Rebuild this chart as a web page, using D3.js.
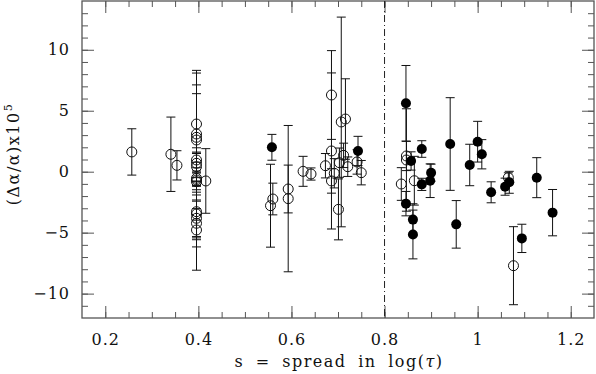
<!DOCTYPE html>
<html>
<head>
<meta charset="utf-8">
<script src="https://cdn.jsdelivr.net/npm/d3@7"></script>
<style>
  body { margin: 0; background: #fff; }
  svg text { font-family: "DejaVu Serif", "Liberation Serif", serif; fill: #111; }
</style>
</head>
<body>
<svg id="chart" width="596" height="374"></svg>
<script>
"use strict";

// open circles: spread, delta alpha / alpha (x1e5), error
const openS = [0.257, 0.341, 0.354, 0.416,
  0.396, 0.396, 0.396, 0.396, 0.396, 0.396, 0.396, 0.396, 0.396, 0.396, 0.396, 0.396, 0.396, 0.396, 0.396,
  0.560, 0.555, 0.593, 0.593, 0.625, 0.642, 0.673, 0.686, 0.686, 0.686, 0.701, 0.707, 0.716, 0.712, 0.703,
  0.721, 0.692, 0.741, 0.750,
  0.836, 0.847, 0.847, 0.864, 1.066, 1.077];
const openY = [1.62, 1.43, 0.52, -0.76,
  3.91, 3.09, 2.82, 2.60, 0.96, 0.69, 0.41, -0.54, -0.68, -0.82, -3.28, -3.47, -3.82, -4.23, -4.78,
  -2.24, -2.79, -1.42, -2.21, 0.03, -0.19, 0.49, 6.29, 1.70, -0.76, -3.09, 4.08, 4.32, 1.34, 0.74,
  0.41, -0.13, 0.80, -0.08,
  -1.01, 1.29, 0.96, -0.74, -0.49, -7.71];
const openErr = [1.9, 3.05, 1.2, 2.65,
  4.4, 5.0, 4.3, 3.8, 1.0, 0.8, 1.2, 0.6, 1.0, 1.6, 4.8, 2.7, 1.5, 1.2, 0.8,
  1.3, 3.4, 1.96, 6.0, 1.23, 0.5, 1.0, 3.64, 6.4, 1.0, 2.5, 8.6, 3.3, 1.0, 1.2,
  0.8, 1.2, 1.0, 1.0,
  1.34, 1.2, 4.2, 2.0, 0.4, 3.2];

// filled circles
const fillS = [0.558, 0.743, 0.846, 0.846, 0.857, 0.861, 0.861, 0.880, 0.880, 0.898, 0.900,
  0.941, 0.954, 0.983, 1.000, 1.009, 1.029, 1.059, 1.068, 1.095, 1.127, 1.161];
const fillY = [2.0, 1.70, 5.61, -2.62, 0.88, -3.93, -5.15, 1.86, -1.04, -0.74, -0.08,
  2.27, -4.32, 0.55, 2.46, 1.43, -1.69, -1.23, -0.87, -5.47, -0.49, -3.36];
const fillErr = [1.06, 1.2, 3.1, 1.0, 0.75, 1.3, 2.0, 0.68, 0.5, 1.38, 0.7,
  3.8, 1.95, 1.7, 1.67, 1.2, 0.86, 0.7, 0.9, 1.16, 1.64, 1.9];

const xTicks = [0.2, 0.4, 0.6, 0.8, 1, 1.2];
const yTicks = [-10, -5, 0, 5, 10];
const cutS = 0.8;

const openPts = openS.map((s, i) => ({ s, y: openY[i], e: openErr[i] }));
const fillPts = fillS.map((s, i) => ({ s, y: fillY[i], e: fillErr[i] }));

const svg = d3.select("#chart");
const pLeft = 82, pRight = 594, pTop = 1, pBottom = 318;

const x = d3.scaleLinear().domain([0.15, 1.25]).range([pLeft, pRight]);
const y = d3.scaleLinear().domain([-12, 14]).range([pBottom, pTop]);

const axisColor = "#555";

// minor ticks
const xMinor = d3.range(0.15, 1.2501, 0.05).filter(v => v > 0.151 && v < 1.249);
const yMinor = d3.range(-11, 14, 1);

function tickAxis(gen, tr, values, size, fmt) {
  const g = svg.append("g")
    .attr("transform", tr)
    .call(gen.tickValues(values).tickSize(size).tickPadding(10).tickFormat(fmt));
  g.select(".domain").remove();
  g.selectAll("line").attr("stroke", axisColor);
  return g;
}

// bottom
const bx = tickAxis(d3.axisBottom(x), `translate(0,${pBottom})`, xTicks, -12, d => String(d));
bx.selectAll("text").attr("font-size", 16).attr("letter-spacing", 1).attr("dy", "0.95em").attr("y", 12);
tickAxis(d3.axisBottom(x), `translate(0,${pBottom})`, xMinor, -6, "");
// top
tickAxis(d3.axisTop(x), `translate(0,${pTop})`, xTicks, -12, "");
tickAxis(d3.axisTop(x), `translate(0,${pTop})`, xMinor, -6, "");
// left
const ly = tickAxis(d3.axisLeft(y), `translate(${pLeft},0)`, yTicks, -12, d3.format("d"));
ly.selectAll("text").attr("font-size", 16).attr("letter-spacing", 1).attr("x", -12);
tickAxis(d3.axisLeft(y), `translate(${pLeft},0)`, yMinor, -6, "");
// right
tickAxis(d3.axisRight(y), `translate(${pRight},0)`, yTicks, -12, "");
tickAxis(d3.axisRight(y), `translate(${pRight},0)`, yMinor, -6, "");

// frame
svg.append("rect")
  .attr("x", pLeft).attr("y", pTop)
  .attr("width", pRight - pLeft).attr("height", pBottom - pTop)
  .attr("fill", "none").attr("stroke", axisColor).attr("stroke-width", 1.3);

// dash-dot divider
svg.append("line")
  .attr("x1", x(cutS)).attr("x2", x(cutS))
  .attr("y1", pTop).attr("y2", pBottom)
  .attr("stroke", "#222").attr("stroke-width", 1)
  .attr("stroke-dasharray", "7,3,1,3");

// error bars
const allPts = openPts.concat(fillPts);
const cap = 4.5;
const eb = svg.append("g").attr("stroke", "#111").attr("stroke-width", 1).attr("fill", "none");
eb.selectAll("path")
  .data(allPts)
  .join("path")
  .attr("d", d => {
    const cx = x(d.s), y1 = y(d.y + d.e), y2 = y(d.y - d.e);
    return `M${cx},${y1}V${y2}M${cx - cap},${y1}H${cx + cap}M${cx - cap},${y2}H${cx + cap}`;
  });

// points
svg.append("g")
  .selectAll("circle")
  .data(openPts)
  .join("circle")
  .attr("cx", d => x(d.s))
  .attr("cy", d => y(d.y))
  .attr("r", 5)
  .attr("fill", "none")
  .attr("stroke", "#111")
  .attr("stroke-width", 1);

svg.append("g")
  .selectAll("circle")
  .data(fillPts)
  .join("circle")
  .attr("cx", d => x(d.s))
  .attr("cy", d => y(d.y))
  .attr("r", 5)
  .attr("fill", "#000");

// axis titles
const xl = svg.append("text")
  .attr("x", (pLeft + pRight) / 2 + 1)
  .attr("y", 367)
  .attr("text-anchor", "middle")
  .attr("font-size", 16)
  .attr("letter-spacing", 1.5)
  .attr("word-spacing", 5);
xl.append("tspan").text("s = spread in log(");
xl.append("tspan").attr("font-style", "italic").text("τ");
xl.append("tspan").text(")");

const yl = svg.append("text")
  .attr("transform", "translate(19,154) rotate(-90)")
  .attr("text-anchor", "middle")
  .attr("font-size", 16)
  .attr("letter-spacing", 1.5);
yl.append("tspan").text("(Δα/α)x10");
yl.append("tspan").attr("dy", -7).attr("font-size", 11).text("5");
</script>
</body>
</html>
